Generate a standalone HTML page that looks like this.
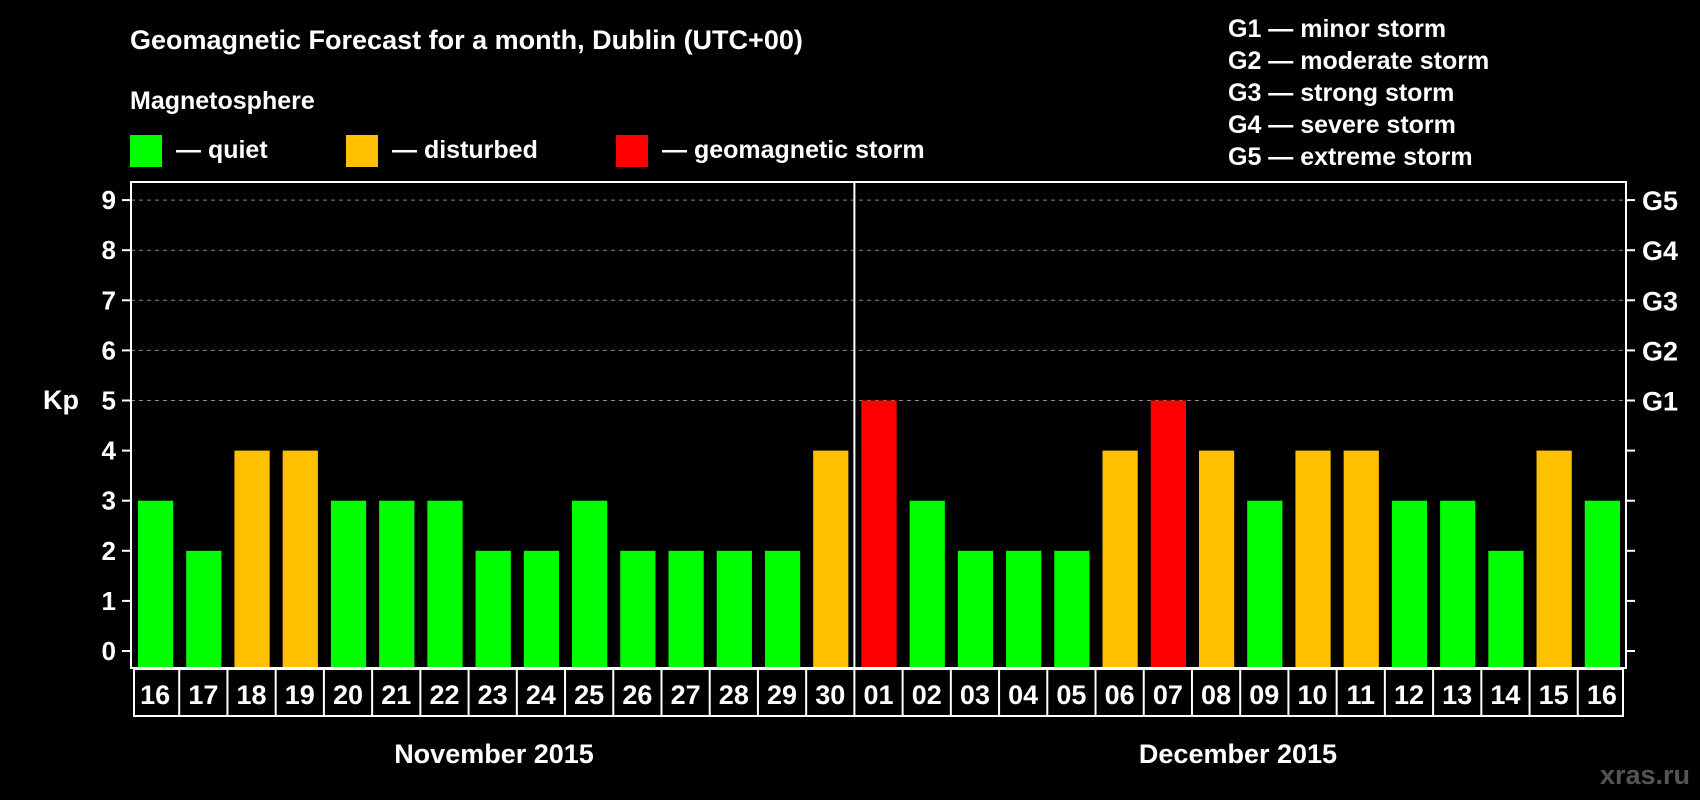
<!DOCTYPE html>
<html><head><meta charset="utf-8"><style>
html,body{margin:0;padding:0;background:#000;}
svg{display:block;font-family:"Liberation Sans",Arial,sans-serif;font-weight:bold;}
</style></head><body>
<svg id="chart" width="1700" height="800" viewBox="0 0 1700 800">
<text x="130" y="49" fill="#fff" font-size="27">Geomagnetic Forecast for a month, Dublin (UTC+00)</text>
<text x="130" y="109" fill="#fff" font-size="25">Magnetosphere</text>
<g><rect x="130" y="135" width="32" height="32" fill="#00ff00"/><text x="176" y="158" fill="#fff" font-size="25">— quiet</text></g>
<g><rect x="346" y="135" width="32" height="32" fill="#ffc000"/><text x="392" y="158" fill="#fff" font-size="25">— disturbed</text></g>
<g><rect x="616" y="135" width="32" height="32" fill="#ff0000"/><text x="662" y="158" fill="#fff" font-size="25">— geomagnetic storm</text></g>
<g fill="#fff" font-size="25">
<text x="1228" y="37">G1 — minor storm</text>
<text x="1228" y="69">G2 — moderate storm</text>
<text x="1228" y="101">G3 — strong storm</text>
<text x="1228" y="133">G4 — severe storm</text>
<text x="1228" y="165">G5 — extreme storm</text>
</g>
<text x="43" y="409" fill="#fff" font-size="27">Kp</text>
<g id="grid"></g><g id="bars"></g><g id="axes"></g><g id="dates"></g>
<text x="494" y="763" fill="#fff" font-size="27" text-anchor="middle">November 2015</text>
<text x="1238" y="763" fill="#fff" font-size="27" text-anchor="middle">December 2015</text>
<text x="1690" y="784" fill="#555" font-size="27" text-anchor="end">xras.ru</text>
</svg>
<script>
const dates=["16","17","18","19","20","21","22","23","24","25","26","27","28","29","30","01","02","03","04","05","06","07","08","09","10","11","12","13","14","15","16"];
const kpValues=[3,2,4,4,3,3,3,2,2,3,2,2,2,2,4,5,3,2,2,2,4,5,4,3,4,4,3,3,2,4,3];
const yTicks=[0,1,2,3,4,5,6,7,8,9];
const gLabels=["G1","G2","G3","G4","G5"];
const monthSplit=15;
const NS="http://www.w3.org/2000/svg";
const L=131,R=1626,T=182,B=668,Y0=651,UNIT=50.1;
const slot=(R-L)/dates.length;
function y(v){return Y0-v*UNIT;}
function x(i){return L+i*slot;}
function mk(tag,attrs,parent){const e=document.createElementNS(NS,tag);for(const k in attrs)e.setAttribute(k,attrs[k]);parent.appendChild(e);return e;}
const grid=document.getElementById('grid'),bars=document.getElementById('bars'),axes=document.getElementById('axes'),dg=document.getElementById('dates');
yTicks.forEach(v=>{
 if(v>=5){const g=mk('line',{x1:L,x2:R,y1:y(v),y2:y(v),stroke:'#888','stroke-width':1,'stroke-dasharray':'4,4'},grid);
 
 }
 const t=mk('line',{x1:L-9,x2:L,y1:y(v),y2:y(v),stroke:'#fff','stroke-width':2},axes);
 
 
 const t2=mk('line',{x1:R,x2:R+9,y1:y(v),y2:y(v),stroke:'#fff','stroke-width':2},axes);
 
 
 const lb=mk('text',{x:116,y:y(v)+9,fill:'#fff','font-size':26,'text-anchor':'end'},axes);
 lb.textContent=v;
 
 
});
gLabels.forEach((g,i)=>{
 const lb=mk('text',{x:1642,y:y(5+i)+10,fill:'#fff','font-size':27},axes);
 lb.textContent=g;
 
 
});
kpValues.forEach((v,i)=>{
 const c=v>=5?'#ff0000':(v>=4?'#ffc000':'#00ff00');
 const r=mk('rect',{x:x(i)+7,y:y(v),width:slot-13,height:B-y(v),fill:c},bars);
 
 
});
const fr=mk('rect',{x:L,y:T,width:R-L,height:B-T,fill:'none',stroke:'#fff','stroke-width':2},axes);


const dv=mk('line',{x1:x(monthSplit),x2:x(monthSplit),y1:T,y2:B,stroke:'#fff','stroke-width':2},axes);


const db=mk('rect',{x:L+3,y:B+1,width:R-L-6,height:47,fill:'none',stroke:'#fff','stroke-width':2},dg);


dates.forEach((d,i)=>{
 if(i>0){const ln=mk('line',{x1:x(i),x2:x(i),y1:B,y2:B+48,stroke:'#fff','stroke-width':2},dg);
 
 }
 const t=mk('text',{x:x(i)+slot/2,y:B+36,fill:'#fff','font-size':27,'text-anchor':'middle'},dg);
 t.textContent=d;
 
 
});
</script>
</body></html>
